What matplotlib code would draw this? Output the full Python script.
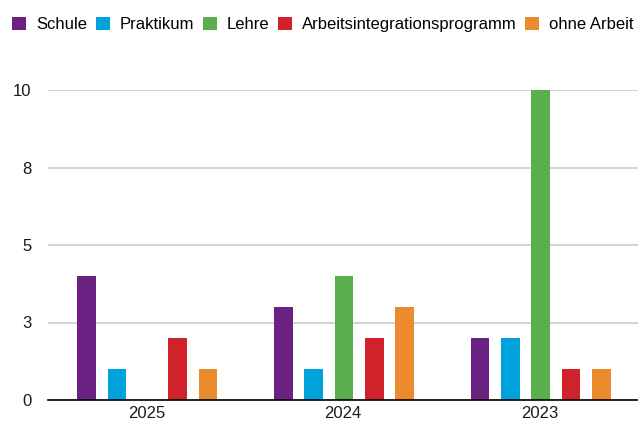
import matplotlib
matplotlib.use("Agg")
import matplotlib.pyplot as plt
import numpy as np

plt.rcParams['font.family'] = ['Liberation Sans', 'DejaVu Sans']

years = ["2025", "2024", "2023"]
series = ["Schule", "Praktikum", "Lehre", "Arbeitsintegrationsprogramm", "ohne Arbeit"]
colors = ["#6B2182", "#00A2DB", "#5BAE4E", "#D0222B", "#EB8B2E"]
schule = [4, 3, 2]
praktikum = [1, 1, 2]
lehre = [0, 4, 10]
arbeitsint = [2, 2, 1]
ohne_arbeit = [1, 3, 1]
values = [schule, praktikum, lehre, arbeitsint, ohne_arbeit]
yticks = [0, 2.5, 5, 7.5, 10]
ytick_labels = ["0", "3", "5", "8", "10"]

fig = plt.figure(figsize=(6.38, 4.21), dpi=100)
ax = fig.add_axes([48/638, 21/421, 590/638, 310/421])

x = np.arange(len(years))
step = 0.154
width = 0.095
for i, (name, vals, c) in enumerate(zip(series, values, colors)):
    ax.bar(x + (i - 2) * step + 0.005, vals, width=width, color=c, label=name, zorder=3)

ax.set_xlim(-0.5, 2.5)
ax.set_ylim(0, 10)
ax.set_yticks(yticks)
ax.set_yticklabels(ytick_labels)
ax.set_xticks(x)
ax.set_xticklabels(years)
ax.grid(axis='y', color='#CCCCCC', linewidth=1.2, zorder=0)
for s in ['top', 'right', 'left']:
    ax.spines[s].set_visible(False)
ax.spines['bottom'].set_color('black')
ax.spines['bottom'].set_linewidth(1.2)
ax.spines['bottom'].set_zorder(4)
ax.tick_params(axis='both', length=0, labelsize=12, colors='#1a1a1a')
ax.tick_params(axis='y', pad=12)
ax.tick_params(axis='x', pad=4)

fig.legend(loc='upper left', bbox_to_anchor=(-0.001, 0.99), ncol=5, frameon=False,
           fontsize=12, handlelength=0.84, handleheight=0.84, handletextpad=0.6,
           columnspacing=0.52, borderaxespad=0.35)

fig.savefig("out.png", dpi=100)
